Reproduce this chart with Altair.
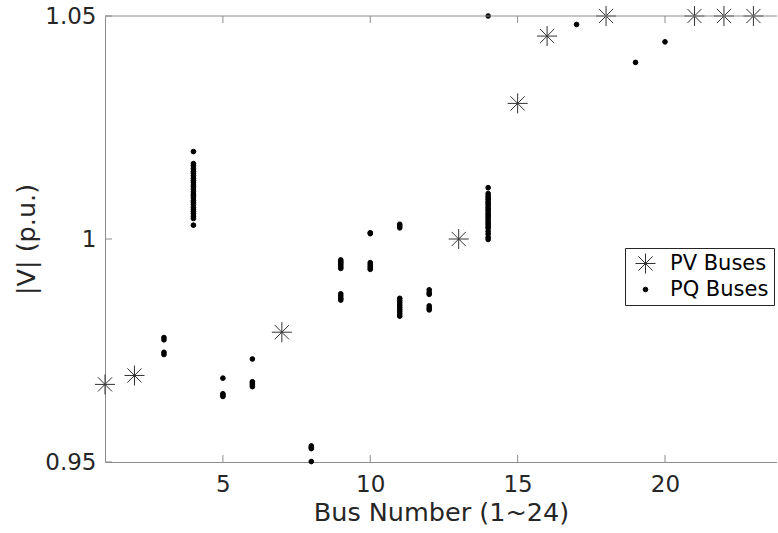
import altair as alt
import pandas as pd

# ---- data ----
PV_BUS = [1, 2, 7, 13, 15, 16, 18, 21, 22, 23]
PV_V = [0.9674, 0.9694, 0.9791, 1.0000, 1.0304, 1.0455, 1.0500, 1.0500, 1.0500, 1.0500]

PQ_BUS_3 = [0.9779, 0.9774, 0.9746, 0.9741]
PQ_BUS_4 = [1.0196, 1.0169, 1.0164, 1.0158, 1.0151, 1.0147, 1.0142, 1.0136, 1.0131, 1.0127,
            1.0121, 1.0117, 1.0112, 1.0106, 1.0101, 1.0097, 1.0092, 1.0086, 1.0082, 1.0077,
            1.0071, 1.0066, 1.0062, 1.0057, 1.0051, 1.0046, 1.0031]
PQ_BUS_5 = [0.9688, 0.9653, 0.9650, 0.9647]
PQ_BUS_6 = [0.9731, 0.9680, 0.9677, 0.9673, 0.9669]
PQ_BUS_8 = [0.9536, 0.9533, 0.9530, 0.9501]
PQ_BUS_9 = [0.9953, 0.9949, 0.9946, 0.9942, 0.9938, 0.9934, 0.9877, 0.9872, 0.9867, 0.9863]
PQ_BUS_10 = [1.0014, 1.0012, 0.9947, 0.9943, 0.9939, 0.9935, 0.9932]
PQ_BUS_11 = [1.0033, 1.0029, 1.0025, 0.9867, 0.9862, 0.9857, 0.9852, 0.9847, 0.9842,
             0.9837, 0.9832, 0.9827]
PQ_BUS_12 = [0.9886, 0.9880, 0.9876, 0.9850, 0.9845, 0.9841]
PQ_BUS_14 = [1.0500, 1.0115, 1.0102, 1.0097, 1.0093, 1.0089, 1.0084, 1.0080, 1.0076, 1.0071,
             1.0067, 1.0063, 1.0058, 1.0054, 1.0050, 1.0046, 1.0041, 1.0037, 1.0033, 1.0028,
             1.0024, 1.0017, 1.0011, 1.0004, 0.9999]
PQ_BUS_17 = [1.0481]
PQ_BUS_19 = [1.0396]
PQ_BUS_20 = [1.0442]

PQ_GROUPS = [(3, PQ_BUS_3), (4, PQ_BUS_4), (5, PQ_BUS_5), (6, PQ_BUS_6), (8, PQ_BUS_8),
             (9, PQ_BUS_9), (10, PQ_BUS_10), (11, PQ_BUS_11), (12, PQ_BUS_12),
             (14, PQ_BUS_14), (17, PQ_BUS_17), (19, PQ_BUS_19), (20, PQ_BUS_20)]

X_TICKS = [5, 10, 15, 20]
Y_TICKS = [0.95, 1.0, 1.05]
X_DOMAIN = [1, 23.8]
Y_DOMAIN = [0.95, 1.05]
TYPES = ["PV Buses", "PQ Buses"]
X_TITLE = "Bus Number (1~24)"
Y_TITLE = "|V| (p.u.)"

rows = [{"bus": b, "v": v, "type": "PV Buses"} for b, v in zip(PV_BUS, PV_V)]
for b, vals in PQ_GROUPS:
    rows += [{"bus": b, "v": v, "type": "PQ Buses"} for v in vals]
df = pd.DataFrame(rows)

W, H = 672, 446
FONT = "DejaVu Sans"
TXT = "#262626"
AX = "#8c8c8c"
AST = "M-1,0L1,0M0,-1L0,1M-0.71,-0.71L0.71,0.71M-0.71,0.71L0.71,-0.71"

xs = alt.Scale(domain=X_DOMAIN, nice=False, zero=False)
ys = alt.Scale(domain=Y_DOMAIN, nice=False, zero=False)

x_axis = alt.Axis(values=X_TICKS, ticks=False, grid=False, domainColor=AX,
                  labelFontSize=23, labelFont=FONT, labelColor=TXT, labelPadding=11,
                  titleFontSize=25.5, titleFont=FONT, titleColor=TXT,
                  titleFontWeight="normal", titlePadding=4)
y_axis = alt.Axis(values=Y_TICKS, ticks=False, grid=False, domainColor=AX,
                  labelExpr="datum.value == 1 ? '1' : format(datum.value, '.2f')",
                  labelFontSize=23, labelFont=FONT, labelColor=TXT, labelPadding=9,
                  titleFontSize=25.5, titleFont=FONT, titleColor=TXT,
                  titleFontWeight="normal", titlePadding=5)

points = alt.Chart(df).mark_point(opacity=1, strokeWidth=1).encode(
    x=alt.X("bus:Q", scale=xs, title=X_TITLE, axis=x_axis),
    y=alt.Y("v:Q", scale=ys, title=Y_TITLE, axis=y_axis),
    shape=alt.Shape("type:N", scale=alt.Scale(domain=TYPES, range=[AST, "circle"]),
                    legend=alt.Legend(title=None, orient="none", legendX=520, legendY=232)),
    fill=alt.Fill("type:N", scale=alt.Scale(domain=TYPES, range=["transparent", "black"])),
    stroke=alt.Stroke("type:N", scale=alt.Scale(domain=TYPES, range=["#333333", "black"])),
    size=alt.Size("type:N", scale=alt.Scale(domain=TYPES, range=[400, 22])),
)

xt = pd.DataFrame({"t": X_TICKS})
yt = pd.DataFrame({"t": Y_TICKS})
bottom_ticks = alt.Chart(xt).mark_rule(color=AX).encode(
    x=alt.X("t:Q", scale=xs, title=X_TITLE), y=alt.value(H), y2=alt.value(H - 7))
top_ticks = alt.Chart(xt).mark_rule(color=AX).encode(
    x=alt.X("t:Q", scale=xs, title=X_TITLE), y=alt.value(0), y2=alt.value(7))
left_ticks = alt.Chart(yt).mark_rule(color=AX).encode(
    y=alt.Y("t:Q", scale=ys, title=Y_TITLE), x=alt.value(0), x2=alt.value(7))
top_line = alt.Chart(pd.DataFrame({"a": [X_DOMAIN[0]], "b": [X_DOMAIN[1]], "y": [Y_DOMAIN[1]]})).mark_rule(color=AX).encode(
    x=alt.X("a:Q", scale=xs, title=X_TITLE), x2="b:Q", y=alt.Y("y:Q", scale=ys, title=Y_TITLE))

chart = alt.layer(points, top_line, bottom_ticks, top_ticks, left_ticks).properties(
    width=W, height=H,
    autosize=alt.AutoSizeParams(type="none"),
    padding={"left": 105, "top": 16, "right": 0, "bottom": 71},
).configure_view(stroke=None).configure_legend(
    strokeColor=TXT, fillColor="white", padding=5, labelFontSize=21, labelFont=FONT,
    labelColor="black", rowPadding=2, labelOffset=14, symbolOffset=5, symbolStrokeWidth=1,
    cornerRadius=0,
)

chart.save("out.html", embed_options={"renderer": "svg", "actions": False})
